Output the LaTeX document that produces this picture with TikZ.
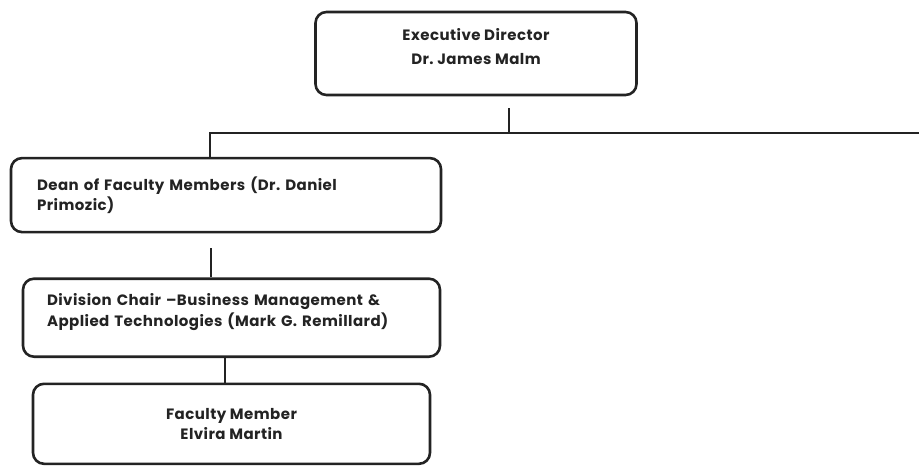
\documentclass[tikz,border=0pt]{standalone}
\usepackage{fontspec}
\setmainfont{Poppins}[LetterSpace=3]
\usetikzlibrary{positioning}
\definecolor{boxline}{RGB}{35,35,35}

\begin{document}
\begin{tikzpicture}[
    x=1pt, y=1pt,
    every node/.style={font=\fontsize{15}{20.5}\selectfont\bfseries\frenchspacing, text=boxline},
    role/.style={rectangle, draw=boxline, line width=2.6pt, rounded corners=11pt, align=center},
    leftrole/.style={role, align=left},
    link/.style={draw=boxline, line width=1.3pt}
]
\useasboundingbox (0,0) rectangle (919,-468);

% Director at the top
\node[role, minimum width=321pt, minimum height=83pt, text depth=14pt] (director) at (476,-53.5) {Executive Director\\[3pt]Dr. James Malm};

% Dean and division chair
\node[leftrole, text width=378pt, inner xsep=26pt, minimum height=74pt, below=60.5pt of director, xshift=-250pt] (dean) {Dean of Faculty Members (Dr. Daniel\\Primozic)};
\node[leftrole, text width=369pt, inner xsep=24pt, minimum height=78pt, text depth=36pt, below=44pt of dean, xshift=5.5pt] (division) {Division Chair --Business Management \&\\Applied Technologies (Mark G. Remillard)};

% Faculty member
\node[role, minimum width=397pt, minimum height=80pt, below=24.5pt of division] (faculty) {Faculty Member\\Elvira Martin};

% Connectors
\coordinate (hub) at (509,-133);
\coordinate (busend) at (919,-133);
\draw[link, shorten <=12pt] (director.south -| hub) -- (hub);
\draw[link] ([xshift=-16pt]dean.north) |- (busend);
\draw[link, shorten <=15pt] ([xshift=-15pt]dean.south) -- ([xshift=-20.5pt]division.north);
\draw[link] ([xshift=-6.5pt]division.south) -- ([xshift=-6.5pt]faculty.north);

\end{tikzpicture}
\end{document}
